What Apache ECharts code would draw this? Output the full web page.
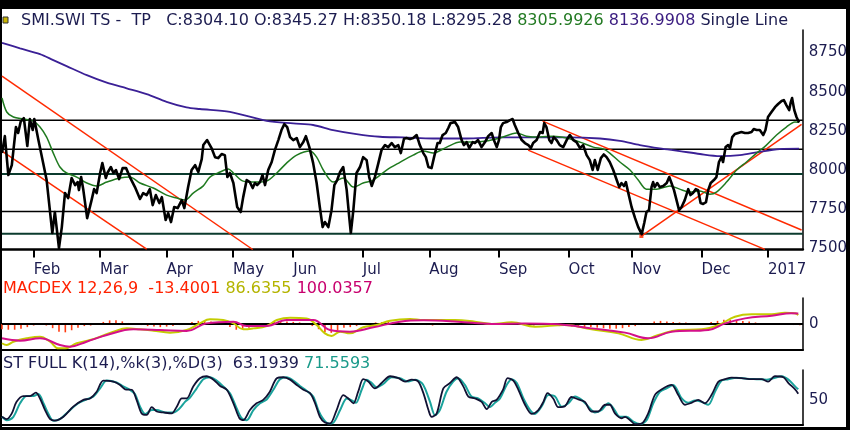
<!DOCTYPE html>
<html><head><meta charset="utf-8">
<script src="https://cdn.jsdelivr.net/npm/echarts@6.0.0/dist/echarts.min.js"></script>
<style>html,body{margin:0;padding:0;background:#fff}#c{width:850px;height:430px}</style>
</head><body><div id="c"></div>
<script>
// x = trading-day index (0 = mid-Jan 2016)
const monthDays = [10,31,52,73,92,114,135,157,179,199,221,242];
const monthNames = ['Feb','Mar','Apr','May','Jun','Jul','Aug','Sep','Oct','Nov','Dec','2017'];
const priceTicks = [7500,7750,8000,8250,8500,8750];

const priceDays = [0,0.9,2.0,3.1,4.4,5.1,5.9,6.9,8.0,8.8,9.7,10.2,11.5,13.0,14.1,15.9,16.7,18.0,18.9,19.9,20.9,22.0,23.1,23.9,24.3,25.0,25.7,26.9,28.3,29.1,29.9,31.0,31.7,32.8,33.3,34.4,35.2,36.0,37.0,38.1,39.2,40.4,42.0,43.6,44.6,45.7,46.7,47.6,48.6,49.7,50.5,51.7,52.5,53.4,54.4,55.5,56.8,57.6,58.8,59.9,61.0,62.0,63.1,63.6,64.8,66.2,67.3,68.3,69.4,70.4,71.2,72.0,73.1,74.3,75.4,76.2,77.3,78.3,79.2,79.9,80.6,81.5,82.3,83.1,84.1,85.2,86.2,87.3,88.3,89.2,90.1,91.0,92.0,93.1,94.1,95.2,96.0,97.1,98.3,99.4,100.4,101.3,102.0,103.1,104.1,105.0,105.9,106.8,107.8,108.9,109.7,110.2,111.0,112.0,113.1,114.1,115.2,116.0,116.8,117.8,118.9,119.9,121.0,122.0,123.1,124.1,125.2,126.0,127.0,127.8,128.9,129.9,131.0,132.0,133.1,133.9,134.7,135.7,136.5,137.6,138.3,139.2,140.2,141.0,141.7,143.1,144.1,145.2,145.9,146.8,147.6,148.7,149.4,150.4,151.5,152.6,153.6,154.7,155.4,156.3,157.0,157.6,158.3,159.4,160.5,161.3,162.0,163.1,164.2,165.2,166.3,167.1,167.8,168.9,170.0,170.8,171.3,172.0,172.9,173.6,174.3,175.2,176.2,177.3,178.4,179.4,180.5,181.5,182.6,183.6,184.7,185.7,186.6,187.3,188.2,189.2,190.1,191.0,192.0,193.1,194.2,195.0,195.7,196.5,197.1,197.8,198.9,200.0,201.0,202.1,202.9,203.6,204.4,205.2,205.7,206.2,207.0,207.8,208.9,210.0,210.8,211.5,212.3,213.1,213.9,214.7,215.7,216.8,217.5,218.3,219.2,219.9,220.7,221.5,222.4,223.1,223.9,224.9,225.7,226.5,227.3,227.8,228.6,229.4,230.0,230.7,231.5,232.6,233.6,234.7,235.7,236.8,237.5,238.4,239.4,240.5,241.2,242.0,243.1,244.2,245.2,246.3,247.0,247.8,248.7,249.2,249.6,250.3,251.0,251.8];
const priceVals = [8109,8217,7969,8032,8275,8237,8309,8332,8154,8326,8256,8326,8192,8045,7937,7599,7733,7503,7637,7854,7822,7950,7905,7924,7873,7956,7873,7694,7809,7879,7854,7982,8045,7950,7982,8020,7982,8001,7943,8013,8013,7956,7892,7816,7854,7841,7879,7777,7841,7790,7828,7682,7726,7669,7765,7758,7809,7758,7892,8001,8032,7988,8070,8160,8192,8141,8083,8077,8103,8096,7956,7982,7918,7765,7733,7828,7937,7924,7886,7918,7905,7924,7969,7905,8001,8052,8128,8192,8256,8294,8275,8211,8192,8205,8147,8179,8217,8147,8045,7918,7765,7637,7669,7637,7745,7905,7937,7988,8020,7873,7701,7599,7745,7982,8020,8083,8064,7956,7899,7956,8045,8128,8160,8147,8173,8147,8160,8109,8200,8205,8198,8205,8224,8160,8109,8083,8020,8013,8083,8173,8173,8224,8237,8269,8300,8307,8275,8192,8160,8179,8141,8179,8173,8192,8147,8179,8217,8237,8192,8147,8192,8275,8300,8307,8319,8326,8288,8237,8192,8173,8160,8141,8173,8192,8243,8237,8300,8275,8192,8173,8211,8192,8160,8147,8192,8224,8192,8179,8141,8160,8096,8064,8001,8064,8001,8077,8100,8083,8052,8001,7937,7892,7918,7899,7924,7860,7765,7694,7637,7592,7663,7733,7745,7892,7924,7892,7918,7892,7899,7918,7956,7918,7873,7809,7745,7765,7809,7879,7841,7854,7879,7873,7790,7784,7796,7873,7918,7937,7956,8052,8083,8052,8147,8160,8141,8211,8230,8237,8243,8237,8237,8243,8262,8256,8256,8224,8256,8339,8371,8402,8422,8441,8447,8415,8383,8434,8460,8383,8339,8304];

const greenDays = [0,1.5,3.6,6.7,9.9,12.0,14.1,16.2,18.3,20.4,23.6,26.8,29.9,33.1,37.3,40.4,43.6,47.8,52.0,55.2,57.8,60.4,63.6,65.7,68.9,71.5,73.1,76.2,80.4,83.6,86.8,89.9,93.1,97.3,99.4,101.5,104.6,107.8,111.0,114.1,117.3,121.5,125.7,129.9,133.1,136.2,140.5,144.7,148.9,153.1,157.3,162.6,165.7,169.9,174.1,178.4,182.6,186.8,190.1,192.0,195.2,198.4,201.0,203.6,206.8,211.0,214.1,217.3,220.5,223.6,225.7,228.9,232.1,235.2,238.4,241.5,244.7,247.8,250.5,251.8];
const greenVals = [8460,8371,8339,8326,8313,8275,8211,8109,8020,7982,7956,7918,7899,7924,7950,7956,7918,7886,7841,7822,7809,7854,7900,7956,7988,8007,7982,7930,7924,7930,7982,8045,8096,8122,8083,8001,7924,7950,7892,7918,7937,8001,8050,8096,8122,8109,8147,8179,8179,8186,8205,8237,8217,8211,8217,8205,8179,8147,8134,8109,8052,8001,7937,7879,7879,7899,7879,7860,7867,7847,7860,7924,8001,8052,8109,8160,8224,8275,8307,8306];

const purpleDays = [0,5.7,12.0,16.2,20.4,26.8,33.1,39.4,45.7,52.0,58.3,62.5,72.0,83.6,92.0,98.3,104.6,112.0,119.4,126.8,136.2,146.8,157.3,167.8,178.4,188.9,195.2,201.5,207.8,214.1,220.5,226.8,233.1,239.4,245.7,251.8];
const purpleVals = [8812,8777,8740,8702,8664,8606,8558,8522,8485,8436,8400,8390,8372,8315,8298,8288,8256,8230,8213,8209,8202,8202,8209,8209,8209,8202,8187,8160,8139,8122,8103,8090,8096,8117,8134,8137];

// horizontal support / resistance levels
const levels = [8318, 8133, 7975, 7737, 7594];
// red trend lines: [start, end] as [day, value]
const trendLines = [
  [[0, 8600], [79.2, 7494]],
  [[0, 8122], [45.7, 7497]],
  [[170.8, 8313], [252.6, 7618]],
  [[166.2, 8128], [241.0, 7495]],
  [[202.0, 7580], [252.6, 8292]]
];

// MACD (12,26,9)
const macdDays = [0,1.5,3.6,7.8,12.0,15.2,17.8,19.9,23.6,27.8,31.0,35.2,39.4,43.6,47.8,53.1,58.3,62.5,65.7,69.9,73.1,76.2,79.4,83.6,86.8,91.0,96.2,99.4,102.0,104.1,106.8,109.9,114.1,118.3,122.6,128.9,133.1,143.1,149.4,154.7,161.0,168.3,177.8,186.2,194.7,202.0,207.3,213.6,221.0,226.3,231.5,236.8,243.1,247.3,250.5,251.5];
const macdVals = [-185,-202,-170,-138,-122,-170,-234,-234,-185,-154,-122,-74,-42,-51,-64,-83,-58,6,45,38,6,-51,-42,-19,38,61,54,-10,-90,-115,-74,-90,-32,-10,32,48,38,38,22,0,16,-26,-10,-51,-90,-154,-106,-58,-51,-10,70,93,93,109,103,87];
const signalDays = [0,5.7,12.0,18.3,21.5,26.7,33.1,41.5,50.0,58.3,64.6,73.1,77.3,83.6,89.9,98.3,103.6,109.9,117.3,125.7,133.1,144.1,154.7,165.2,175.7,186.2,196.8,204.1,211.5,223.1,228.4,234.7,243.1,249.4,251.5];
const signalVals = [-138,-160,-138,-202,-218,-170,-106,-51,-58,-67,6,22,-19,-19,38,38,-58,-74,-32,22,35,22,0,6,-3,-42,-83,-138,-74,-58,6,54,80,103,100];
// histogram, one value every 2 trading days
const histVals = [-50,-55,-55,-45,-30,-15,-10,-15,-40,-75,-80,-60,-35,-20,-15,-5,20,35,35,25,10,0,-10,-20,-25,-30,-25,-20,-10,5,20,30,30,25,15,0,-30,-55,-50,-35,-15,0,10,20,25,25,20,15,5,-20,-50,-80,-85,-60,-35,-30,-20,-5,5,15,20,20,15,10,10,5,0,-10,-15,-10,0,10,10,0,-10,-5,0,5,5,10,10,5,-5,-15,-15,-10,-10,-15,-20,-20,-25,-30,-30,-30,-35,-40,-45,-45,-40,-30,-20,-10,10,25,30,25,20,15,15,10,5,10,20,30,40,40,35,30,25,15,10,5,0,0,-5,-10,-13];

// Stochastic full K(14) %k(3) %D(3)
const kDays = [0,1.5,3.1,4.6,6.7,8.8,10.7,12.0,13.6,15.2,16.7,19.4,22.5,25.7,27.8,29.9,32.0,35.2,37.3,38.9,41.0,42.5,44.1,45.7,47.3,48.9,51.0,53.6,55.2,56.8,58.3,60.4,62.5,64.6,66.8,68.9,71.0,73.1,75.0,76.2,78.3,80.4,82.5,84.6,86.8,88.9,91.0,93.1,95.2,97.3,98.9,100.4,102.0,103.6,105.7,107.8,109.4,111.0,112.5,114.1,115.7,117.8,119.9,122.6,125.2,127.3,129.4,131.5,133.3,134.7,135.7,137.3,139.4,141.5,143.6,145.7,147.3,149.4,151.5,153.1,154.7,156.2,158.3,159.7,161.5,163.1,165.2,167.3,169.4,171.0,172.3,174.1,175.7,177.8,179.9,182.0,184.1,186.2,188.3,190.5,192.0,193.6,195.7,196.8,198.4,199.9,202.0,204.1,206.2,208.4,211.5,213.6,215.7,217.8,219.9,222.0,224.1,226.3,228.4,230.5,233.6,236.8,239.9,242.0,244.1,246.8,248.4,250.5,251.5];
const kVals = [15,10,22,46,58,58,65,53,29,10,7,15,36,50,53,67,90,88,81,72,71,50,22,19,35,26,24,22,36,53,53,78,95,99,92,79,71,43,12,8,29,43,50,67,95,97,92,81,71,64,43,15,3,1,29,60,53,43,67,93,88,74,85,99,95,88,92,88,60,29,15,22,74,85,97,78,57,53,46,31,46,50,72,95,90,71,40,21,29,46,64,53,35,37,56,51,46,26,26,40,40,22,12,15,8,0,1,22,60,72,81,60,40,44,50,43,60,88,93,96,95,93,93,88,99,97,85,72,63];
const dDays = [0,1.5,3.6,5.7,7.8,9.9,11.5,13.1,14.6,16.2,18.3,21.0,24.1,26.7,28.9,31.0,33.1,36.2,38.3,40.4,42.0,43.6,45.2,47.3,48.9,51.5,54.1,56.2,57.8,59.4,61.5,63.6,65.7,67.8,69.9,72.0,74.1,75.7,77.3,79.4,81.5,83.6,85.7,87.8,89.9,92.0,94.1,96.2,98.3,99.9,101.5,103.1,104.7,106.8,108.9,110.5,111.8,113.6,115.2,116.8,118.3,120.4,123.1,125.7,128.3,130.5,132.6,133.6,135.2,136.8,138.3,140.4,142.5,144.1,146.2,148.3,150.4,152.6,154.1,155.7,157.3,159.4,161.0,162.6,164.7,166.8,168.3,170.4,172.6,174.7,176.8,178.9,181.0,183.1,185.2,187.3,189.4,191.5,193.1,195.2,197.3,199.4,201.5,203.6,205.7,207.8,209.9,212.0,214.7,216.8,218.9,221.0,223.1,225.2,227.3,229.4,232.0,235.2,238.4,241.5,243.6,246.3,248.4,250.5,251.5];
const dVals = [15,8,15,43,58,58,62,43,22,7,10,26,43,51,57,74,90,86,78,71,62,36,21,29,29,24,24,33,46,55,74,93,97,90,78,64,33,12,8,29,43,51,71,93,97,90,79,69,57,29,10,1,3,29,53,49,44,71,92,85,76,83,97,95,88,92,85,74,46,18,29,67,88,95,81,57,53,43,35,44,53,81,93,85,53,29,21,36,60,57,36,43,57,50,36,24,29,43,33,15,15,5,0,8,43,67,74,81,53,44,49,46,40,67,90,93,96,94,93,92,95,99,92,78,72];

const NAVY = '#1c1c50';
const FONT = 'DejaVu Sans';
const XMAX = 253;
const zip = (xs, ys) => xs.map((x, i) => [x, ys[i]]);
const levelColors = ['#000', '#000', '#0b3b2e', '#000', '#0b3b2e'];
const levelWidths = [1.5, 1.5, 2, 1.5, 2];

function xAxisBase(grid, extra) {
  return Object.assign({
    type: 'value', gridIndex: grid, min: 0, max: XMAX,
    axisLine: { show: true, onZero: false, lineStyle: { color: '#000', width: 2.5 } },
    axisTick: { show: false }, axisLabel: { show: false }, splitLine: { show: false }
  }, extra || {});
}
function yAxisBase(grid, min, max, labels) {
  return {
    type: 'value', gridIndex: grid, position: 'right', min: min, max: max,
    axisLine: { show: true, onZero: false, lineStyle: { color: '#000', width: 1.5 } },
    axisTick: { show: false }, splitLine: { show: false },
    axisLabel: { customValues: labels, formatter: v => String(v), color: NAVY, fontFamily: FONT, fontSize: 15, margin: 6 }
  };
}

const series = [];
levels.forEach((v, i) => series.push({
  type: 'line', xAxisIndex: 0, yAxisIndex: 0, data: [[0, v], [XMAX, v]], symbol: 'none', silent: true, z: 1,
  lineStyle: { color: levelColors[i], width: levelWidths[i] }
}));
trendLines.forEach(seg => series.push({
  type: 'line', xAxisIndex: 0, yAxisIndex: 0, data: seg, symbol: 'none', silent: true, z: 2,
  lineStyle: { color: '#ff2a00', width: 1.5 }
}));
series.push({ type: 'scatter', xAxisIndex: 0, yAxisIndex: 0, data: [trendLines[4][0]], symbol: 'rect', symbolSize: 4, itemStyle: { color: '#ff2a00' }, z: 2 });
series.push({ type: 'line', xAxisIndex: 0, yAxisIndex: 0, data: zip(purpleDays, purpleVals), symbol: 'none', smooth: 0.3, z: 3, lineStyle: { color: '#3b2096', width: 1.8 } });
series.push({ type: 'line', xAxisIndex: 0, yAxisIndex: 0, data: zip(greenDays, greenVals), symbol: 'none', smooth: 0.3, z: 3, lineStyle: { color: '#1f7a1f', width: 1.5 } });
series.push({ type: 'line', xAxisIndex: 0, yAxisIndex: 0, data: zip(priceDays, priceVals), symbol: 'none', z: 4, lineStyle: { color: '#000', width: 2.6, join: 'round' } });

series.push({ type: 'bar', xAxisIndex: 1, yAxisIndex: 1, data: histVals.map((v, i) => [i * 2, v]), barWidth: 1.6, itemStyle: { color: '#ff3a10' }, z: 1 });
series.push({ type: 'line', xAxisIndex: 1, yAxisIndex: 1, data: [[0, 0], [XMAX, 0]], symbol: 'none', z: 2, lineStyle: { color: '#000', width: 2.2 } });
series.push({ type: 'line', xAxisIndex: 1, yAxisIndex: 1, data: zip(macdDays, macdVals), symbol: 'none', smooth: 0.4, z: 3, lineStyle: { color: '#c4cc00', width: 2 } });
series.push({ type: 'line', xAxisIndex: 1, yAxisIndex: 1, data: zip(signalDays, signalVals), symbol: 'none', smooth: 0.4, z: 3, lineStyle: { color: '#d4108a', width: 2 } });

series.push({ type: 'line', xAxisIndex: 2, yAxisIndex: 2, data: zip(dDays, dVals), symbol: 'none', smooth: 0.3, z: 2, lineStyle: { color: '#1aa39c', width: 2 } });
series.push({ type: 'line', xAxisIndex: 2, yAxisIndex: 2, data: zip(kDays, kVals), symbol: 'none', smooth: 0.3, z: 3, lineStyle: { color: '#111133', width: 1.8 } });

const option = {
  animation: false,
  backgroundColor: '#fff',
  grid: [
    { left: 2, right: 47, top: 30, height: 219.5 },
    { left: 2, right: 47, top: 298, height: 52 },
    { left: 2, right: 47, top: 370, height: 55 }
  ],
  xAxis: [
    xAxisBase(0, {
      axisTick: { show: true, customValues: monthDays, length: 8, lineStyle: { color: '#000', width: 2 } },
      axisLabel: {
        show: true, customValues: monthDays, align: 'left', margin: 13,
        color: NAVY, fontFamily: FONT, fontSize: 15,
        formatter: v => { const i = monthDays.indexOf(v); return i >= 0 ? monthNames[i] : ''; }
      }
    }),
    xAxisBase(1, { axisLine: { show: true, onZero: false, lineStyle: { color: '#000', width: 2 } } }),
    xAxisBase(2, { axisLine: { show: true, onZero: false, lineStyle: { color: '#000', width: 2 } } })
  ],
  yAxis: [
    yAxisBase(0, 7494, 8894, priceTicks),
    yAxisBase(1, -250, 250, [0]),
    yAxisBase(2, -2, 112, [50])
  ],
  series: series,
  graphic: [
    { type: 'rect', shape: { x: 0, y: 0, width: 850, height: 9 }, style: { fill: '#000' }, silent: true },
    { type: 'rect', shape: { x: 0, y: 0, width: 2, height: 430 }, style: { fill: '#000' }, silent: true },
    { type: 'rect', shape: { x: 846, y: 0, width: 4, height: 430 }, style: { fill: '#000' }, silent: true },
    { type: 'rect', shape: { x: 0, y: 427, width: 850, height: 3 }, style: { fill: '#000' }, silent: true },
    { type: 'rect', shape: { x: 3, y: 17, width: 5, height: 6 }, style: { fill: '#c8b400', stroke: '#333', lineWidth: 1 }, silent: true },
    { type: 'text', x: 21, y: 21, silent: true, style: {
      text: '{n|SMI.SWI TS -  TP   C:8304.10 O:8345.27 H:8350.18 L:8295.28} {g|8305.9926} {p|8136.9908} {n|Single Line}',
      verticalAlign: 'middle', font: '16px "DejaVu Sans"',
      rich: {
        n: { fill: NAVY, fontSize: 16, fontFamily: FONT },
        g: { fill: '#237a23', fontSize: 16, fontFamily: FONT },
        p: { fill: '#3a1c80', fontSize: 16, fontFamily: FONT }
      } } },
    { type: 'text', x: 3, y: 289, silent: true, style: {
      text: '{r|MACDEX 12,26,9  -13.4001} {y|86.6355} {m|100.0357}',
      verticalAlign: 'middle', font: '16px "DejaVu Sans"',
      rich: {
        r: { fill: '#ff2200', fontSize: 16, fontFamily: FONT },
        y: { fill: '#b4b400', fontSize: 16, fontFamily: FONT },
        m: { fill: '#c8006e', fontSize: 16, fontFamily: FONT }
      } } },
    { type: 'text', x: 3, y: 364, silent: true, style: {
      text: '{n|ST FULL K(14),%k(3),%D(3)  63.1939} {t|71.5593}',
      verticalAlign: 'middle', font: '16px "DejaVu Sans"',
      rich: {
        n: { fill: NAVY, fontSize: 16, fontFamily: FONT },
        t: { fill: '#1a9a8a', fontSize: 16, fontFamily: FONT }
      } } }
  ]
};
const chart = echarts.init(document.getElementById('c'), null, { renderer: 'canvas' });
chart.setOption(option);
</script></body></html>
